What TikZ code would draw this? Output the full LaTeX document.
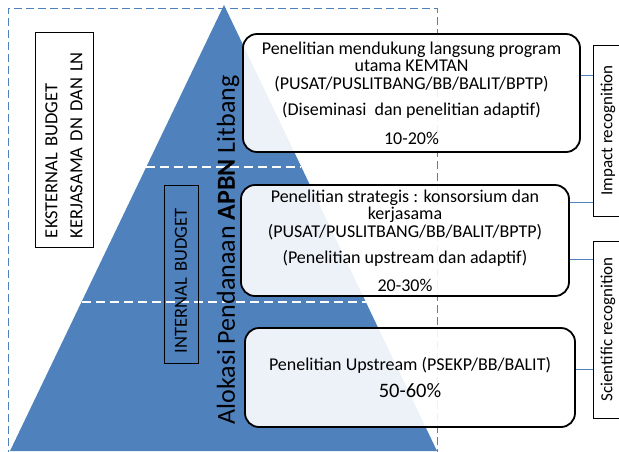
\documentclass[tikz,border=0pt]{standalone}
\usepackage{fontspec}
\setmainfont{Carlito}
\definecolor{apbnblue}{HTML}{4F81BD}

\begin{document}
\begin{tikzpicture}[
		x=1pt, y=-1pt,
		level/.style={rectangle, draw, line width=1.8pt, rounded corners=14pt, fill=white, fill opacity=0.9, text opacity=1, align=center, inner sep=0pt, font=\fontsize{18}{17.5}\selectfont},
		budget/.style={rectangle, draw, line width=0.8pt, rotate=90, align=left, inner ysep=0pt, font=\fontsize{18.5}{25}\selectfont},
		recog/.style={rectangle, draw, line width=0.8pt, rotate=90, inner sep=0pt, font=\fontsize{17}{20}\selectfont},
		link/.style={apbnblue, line width=0.8pt},
		divider/.style={white, line width=1.3pt, dash pattern=on 9pt off 5pt}
		]
		\useasboundingbox (0,0) rectangle (619,451);
		\clip (0,0) rectangle (619,451);
		
		% Frame and pyramid
		\draw [apbnblue, line width=1pt, dash pattern=on 8pt off 4pt] (8,470) |- (437,8) -- (437,470);
		\fill [apbnblue] (224,5) -- (10,451) -- (437,451) -- cycle;
		\draw [divider] (146,167) -- (301,167);
		\draw [divider] (82,302) -- (366,302);
		
		% Nodes
		\node (ext) [budget, minimum width=215pt, minimum height=58pt, text width=197pt, inner xsep=9pt] at (64,139.5) {EKSTERNAL BUDGET\\KERJASAMA DN DAN LN};
		\node (int) [budget, minimum width=178pt, minimum height=34pt, text width=158pt, inner xsep=10pt] at (181,274) {INTERNAL BUDGET};
		\node (alokasi) [rotate=90, font=\fontsize{26}{30}\selectfont] at (228,250) {Alokasi Pendanaan \textbf{APBN} Litbang};
		
		\node (top) [level, minimum width=337pt, minimum height=118pt] at (411.5,93) {Penelitian mendukung langsung program\\utama KEMTAN\\(PUSAT/PUSLITBANG/BB/BALIT/BPTP)\\[9pt](Diseminasi\ \ dan penelitian adaptif)\\[11pt]10-20\%};
		\node (mid) [level, minimum width=328pt, minimum height=111pt] at (405,240.5) {Penelitian strategis : konsorsium dan\\kerjasama\\(PUSAT/PUSLITBANG/BB/BALIT/BPTP)\\[9pt](Penelitian upstream dan adaptif)\\[10pt]20-30\%};
		\node (base) [level, minimum width=330pt, minimum height=99pt] at (410,377.5) {Penelitian Upstream (PSEKP/BB/BALIT)\\[10pt]{\fontsize{20.5}{17}\selectfont 50-60\%}};
		
		\node (impact) [recog, minimum width=171pt, minimum height=30pt] at (608,130.5) {Impact recognition};
		\node (science) [recog, minimum width=177pt, minimum height=30pt] at (608,329.5) {Scientific recognition};
		
		% Lines
		\draw [link] ([yshift=18pt]top.east) -- ([yshift=18pt]top.east -| impact.north);
		\draw [link] ([yshift=38.5pt]mid.east) -- ([yshift=38.5pt]mid.east -| impact.north);
		\draw [link] ([yshift=-18.5pt]mid.east) -- ([yshift=-18.5pt]mid.east -| science.north);
		\draw [link] ([yshift=8.5pt]base.east) -- ([yshift=8.5pt]base.east -| science.north);
		
	\end{tikzpicture}
\end{document}
